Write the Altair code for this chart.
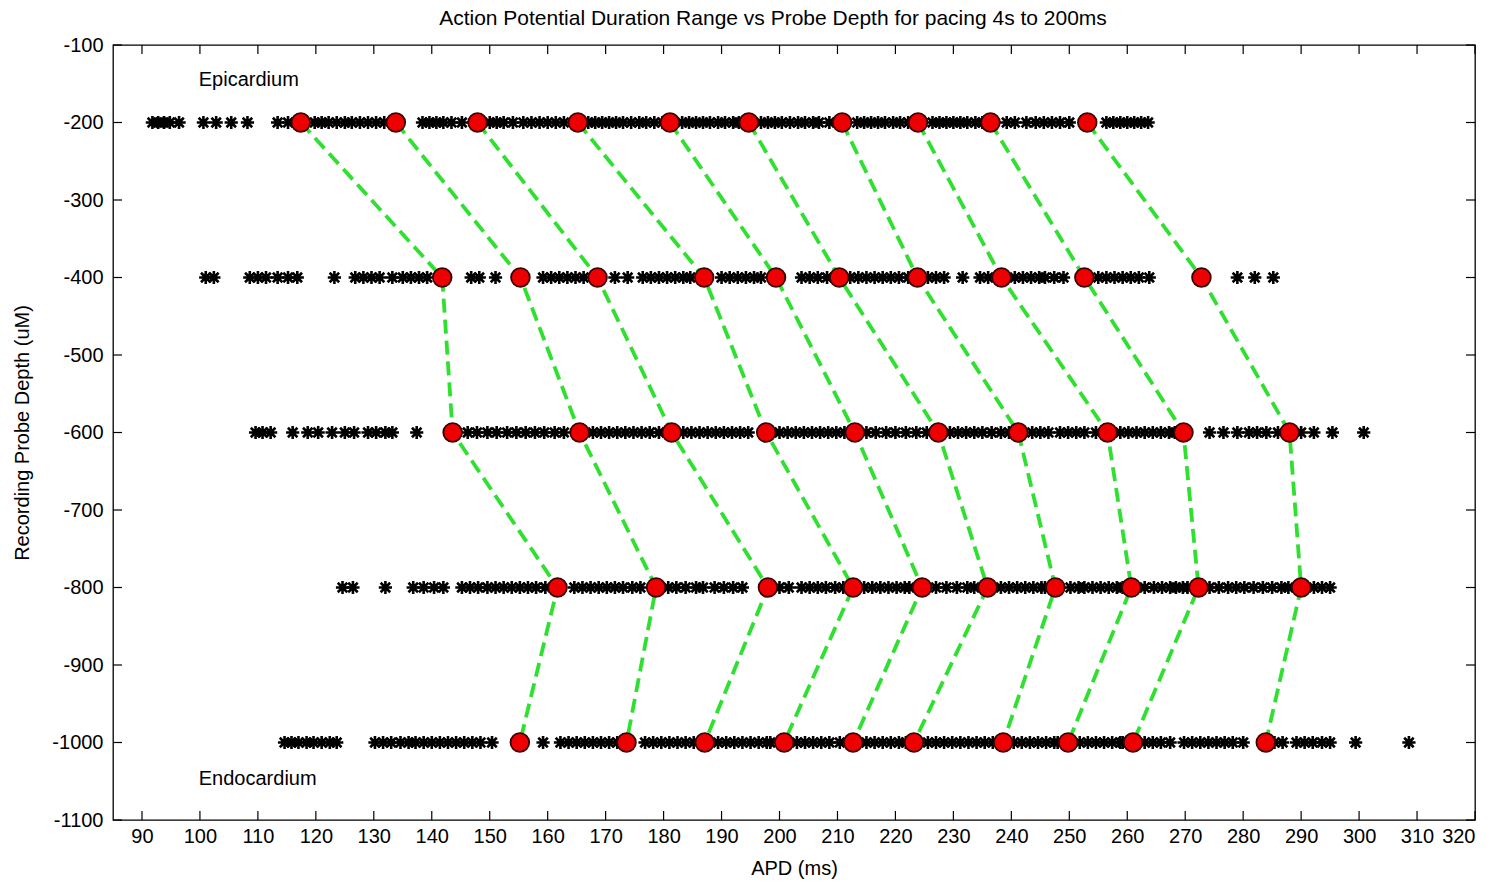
import altair as alt
import pandas as pd

# ---------------- data ----------------
depths = [-200, -400, -600, -800, -1000]

# red markers (APD in ms), one per trace at each depth
red_200 = [117.4, 133.8, 147.9, 165.2, 181.1, 194.7, 210.8, 223.9, 236.4, 253.1]
red_400 = [141.8, 155.3, 168.6, 187.0, 199.4, 210.3, 223.8, 238.3, 252.6, 272.8]
red_600 = [143.6, 165.5, 181.4, 197.7, 213.0, 227.4, 241.2, 256.6, 269.7, 288.0]
red_800 = [161.7, 178.7, 198.0, 212.7, 224.6, 235.9, 247.6, 260.7, 272.3, 290.0]
red_1000 = [155.2, 173.6, 187.1, 200.8, 212.7, 223.2, 238.6, 249.8, 261.0, 283.9]

# black asterisks (individual APD measurements)
ast_200 = [91.8, 92.8, 93.8, 94.8, 96.4, 100.6, 102.8, 105.4, 108.2, 113.4, 115.2,
           119.8, 121.0, 122.2, 123.6, 125.0, 126.2, 127.6, 129.0, 130.4, 131.8,
           138.4, 139.6, 140.8, 142.0, 143.4, 145.2,
           150.0, 151.2, 152.4, 154.0, 155.8, 157.2, 158.6, 160.0, 161.4, 162.8,
           167.0, 168.2, 169.4, 170.6, 171.8, 173.0, 174.4, 175.8, 177.0, 178.4, 179.8,
           183.2, 184.4, 185.6, 186.8, 188.0, 189.4, 190.6, 192.0, 193.0,
           196.8, 198.0, 199.2, 200.4, 201.8, 203.2, 204.4, 205.8, 206.8, 208.6,
           213.4, 214.6, 215.8, 217.0, 218.2, 219.6, 220.8, 222.2,
           226.4, 227.6, 228.8, 230.0, 231.2, 232.4, 233.8, 235.0,
           239.2, 240.6, 242.6, 244.2, 245.6, 247.0, 248.4, 250.0,
           256.4, 257.6, 258.8, 260.0, 261.2, 262.4, 263.6]
ast_400 = [101.0, 102.4, 108.6, 110.0, 111.4, 113.4, 115.2, 116.8, 123.2,
           126.8, 128.2, 129.6, 131.0, 133.2, 135.0, 136.4, 137.8, 139.2,
           146.8, 148.2, 151.0,
           159.2, 160.6, 162.0, 163.4, 164.8, 166.2,
           171.6, 173.8, 176.4, 177.8, 179.2, 180.6, 182.0, 183.4, 184.6,
           190.0, 191.4, 192.8, 194.2, 195.6, 196.8,
           203.8, 205.2, 206.6, 208.2,
           212.2, 213.6, 215.0, 216.4, 217.8, 219.2, 220.6, 222.2,
           225.6, 227.0, 228.4, 231.6, 234.6, 236.0,
           240.6, 242.0, 243.4, 244.8, 245.8, 247.4, 249.0,
           255.0, 256.4, 257.8, 259.2, 260.6, 262.0, 263.8,
           279.0, 282.0, 285.2]
ast_600 = [109.6, 110.8, 112.2, 116.0, 118.6, 120.4, 122.8, 125.0, 126.6, 129.0, 130.4,
           132.0, 133.2, 137.4,
           146.2, 147.8, 149.6, 151.2, 153.0, 154.6, 156.2, 157.8, 159.4, 161.2, 162.8,
           167.8, 169.2, 170.6, 172.0, 173.4, 174.8, 176.2, 177.6, 179.2,
           183.4, 184.8, 186.2, 187.6, 189.0, 190.4, 191.8, 193.2, 194.6,
           200.0, 201.4, 202.8, 204.2, 205.6, 207.0, 208.4, 209.8, 211.2,
           215.0, 216.6, 218.4, 220.0, 221.8, 223.6, 225.4,
           229.4, 230.8, 232.2, 233.6, 235.0, 236.6, 238.2, 239.6,
           243.6, 245.0, 246.4, 248.4, 249.8, 251.2, 252.6, 254.6,
           258.8, 260.2, 261.6, 263.0, 264.4, 265.8, 267.2, 268.2,
           274.2, 276.6, 279.0, 281.0, 282.4, 284.0, 286.0,
           290.0, 292.2, 295.4, 300.8]
ast_800 = [124.6, 126.4, 132.0, 136.8, 138.6, 140.4, 142.0,
           145.2, 146.6, 148.0, 149.6, 151.0, 152.4, 153.8, 155.2, 156.6, 158.0, 159.6,
           164.6, 166.0, 167.4, 168.8, 170.2, 171.6, 173.0, 174.6, 176.0,
           180.8, 182.2, 183.8, 185.6, 186.8, 188.8, 190.4, 192.0, 193.6,
           200.0, 201.6, 203.8, 205.2, 206.6, 208.0, 209.6, 211.0,
           214.6, 216.0, 217.4, 218.8, 220.2, 221.6, 222.4,
           227.0, 228.8, 230.6, 232.4, 233.6,
           238.2, 239.6, 241.0, 242.4, 243.8, 245.2, 245.8,
           250.2, 251.6, 252.6, 254.0, 255.4, 256.8, 258.2, 259.2,
           263.0, 264.6, 266.0, 267.4, 268.4, 269.6, 270.4,
           274.2, 275.8, 277.4, 278.8, 280.2, 281.8, 283.4, 285.0, 286.6, 287.8,
           292.2, 293.6, 295.0]
ast_1000 = [114.6, 115.8, 117.0, 118.4, 119.6, 121.0, 122.4, 123.6,
            130.2, 131.6, 133.0, 134.6, 136.0, 137.2, 138.6, 140.0, 141.4, 142.8,
            144.2, 145.6, 147.0, 148.4, 150.4,
            159.2, 162.2, 163.6, 165.0, 166.4, 167.8, 169.2, 170.6, 172.0,
            176.8, 178.2, 179.6, 181.0, 182.4, 183.8, 185.2,
            189.4, 190.8, 192.2, 193.6, 195.0, 196.4, 197.8, 198.4,
            203.0, 204.4, 205.8, 207.2, 208.6, 210.4,
            215.0, 216.4, 217.8, 219.2, 220.6, 221.8,
            225.6, 227.0, 228.4, 229.8, 231.2, 232.6, 234.0, 235.4, 236.8,
            240.4, 241.8, 243.2, 244.6, 246.0, 247.4, 248.0,
            251.8, 253.2, 254.6, 256.0, 257.4, 258.8, 259.2,
            263.0, 264.4, 265.8, 267.4,
            269.8, 271.2, 272.6, 274.0, 275.4, 276.8, 278.2, 280.0,
            285.4, 286.8, 289.2, 290.6, 292.0, 293.6, 295.0,
            299.4, 308.6]

x_ticks = [90, 100, 110, 120, 130, 140, 150, 160, 170, 180, 190, 200, 210, 220,
           230, 240, 250, 260, 270, 280, 290, 300, 310, 320]
y_ticks = [-1100, -1000, -900, -800, -700, -600, -500, -400, -300, -200, -100]

annot_text = ["Epicardium", "Endocardium"]
annot_x = [99.8, 99.8]
annot_y = [-145, -1047]

# ---------------- tables ----------------
red_rows = [red_200, red_400, red_600, red_800, red_1000]
ast_rows = [ast_200, ast_400, ast_600, ast_800, ast_1000]

red_df = pd.DataFrame([
    {"apd": v, "depth": d, "trace": i, "order": k}
    for k, (d, row) in enumerate(zip(depths, red_rows))
    for i, v in enumerate(row)
])
ast_df = pd.DataFrame([
    {"apd": v, "depth": d}
    for d, row in zip(depths, ast_rows)
    for v in row
])
xt_df = pd.DataFrame({"apd": x_ticks})
yt_df = pd.DataFrame({"depth": y_ticks})
ann_df = pd.DataFrame({"label": annot_text, "apd": annot_x, "depth": annot_y})

W, H = 1362, 775
FONT = "Liberation Sans"
XT = "APD (ms)"
YT = "Recording Probe Depth (uM)"

xscale = alt.Scale(domain=[85, 320], nice=False, zero=False)
yscale = alt.Scale(domain=[-1100, -100], nice=False, zero=False)

xaxis = alt.Axis(values=x_ticks, title=XT, ticks=False, domain=False, grid=False,
                 labelPadding=6, titlePadding=12, labelExpr="'' + datum.value")
yaxis = alt.Axis(values=y_ticks, title=YT, ticks=False, domain=False, grid=False,
                 labelPadding=10, titlePadding=19, labelExpr="'' + datum.value")

ASTERISK = "M-1,0L1,0M0,-1L0,1M-0.72,-0.72L0.72,0.72M-0.72,0.72L0.72,-0.72"

stars = alt.Chart(ast_df).mark_point(
    shape=ASTERISK, filled=False, stroke="black", strokeWidth=2.6, size=175, opacity=1
).encode(
    x=alt.X("apd:Q", scale=xscale, axis=xaxis, title=XT),
    y=alt.Y("depth:Q", scale=yscale, axis=yaxis, title=YT),
)

lines = alt.Chart(red_df).mark_line(
    color="#30e030", strokeWidth=3.8, strokeDash=[14, 7]
).encode(
    x=alt.X("apd:Q", scale=xscale, title=XT),
    y=alt.Y("depth:Q", scale=yscale, title=YT),
    detail="trace:N",
    order="order:Q",
)

dots = alt.Chart(red_df).mark_point(
    shape="circle", filled=True, fill="#ee0000", stroke="#3a0000", strokeWidth=1.8,
    size=350, opacity=1
).encode(
    x=alt.X("apd:Q", scale=xscale, title=XT),
    y=alt.Y("depth:Q", scale=yscale, title=YT),
)

tick_len = 9
xt_bottom = alt.Chart(xt_df).mark_rule(color="black", strokeWidth=1.2).encode(
    x=alt.X("apd:Q", scale=xscale, title=XT), y=alt.value(H), y2=alt.value(H - tick_len))
xt_top = alt.Chart(xt_df).mark_rule(color="black", strokeWidth=1.2).encode(
    x=alt.X("apd:Q", scale=xscale, title=XT), y=alt.value(0), y2=alt.value(tick_len))
yt_left = alt.Chart(yt_df).mark_rule(color="black", strokeWidth=1.2).encode(
    y=alt.Y("depth:Q", scale=yscale, title=YT), x=alt.value(0), x2=alt.value(tick_len))
yt_right = alt.Chart(yt_df).mark_rule(color="black", strokeWidth=1.2).encode(
    y=alt.Y("depth:Q", scale=yscale, title=YT), x=alt.value(W), x2=alt.value(W - tick_len))

ann = alt.Chart(ann_df).mark_text(
    align="left", baseline="middle", font=FONT, fontSize=20, color="black"
).encode(
    x=alt.X("apd:Q", scale=xscale, title=XT),
    y=alt.Y("depth:Q", scale=yscale, title=YT),
    text="label:N",
)

chart = alt.layer(
    xt_bottom, xt_top, yt_left, yt_right, stars, lines, dots, ann
).properties(
    width=W, height=H,
    title=alt.TitleParams(
        text="Action Potential Duration Range vs Probe Depth for pacing 4s to 200ms",
        font=FONT, fontSize=21, fontWeight="normal", color="black", dx=-21, offset=6,
    ),
    autosize=alt.AutoSizeParams(type="none"),
    padding={"left": 113, "top": 45, "right": 24, "bottom": 64},
    background="white",
).configure_view(
    stroke="black", strokeWidth=1.3
).configure_axis(
    labelFont=FONT, labelFontSize=20, labelColor="black",
    titleFont=FONT, titleFontSize=20, titleFontWeight="normal", titleColor="black",
)

chart.save("out.html", embed_options={"renderer": "svg", "actions": False})
